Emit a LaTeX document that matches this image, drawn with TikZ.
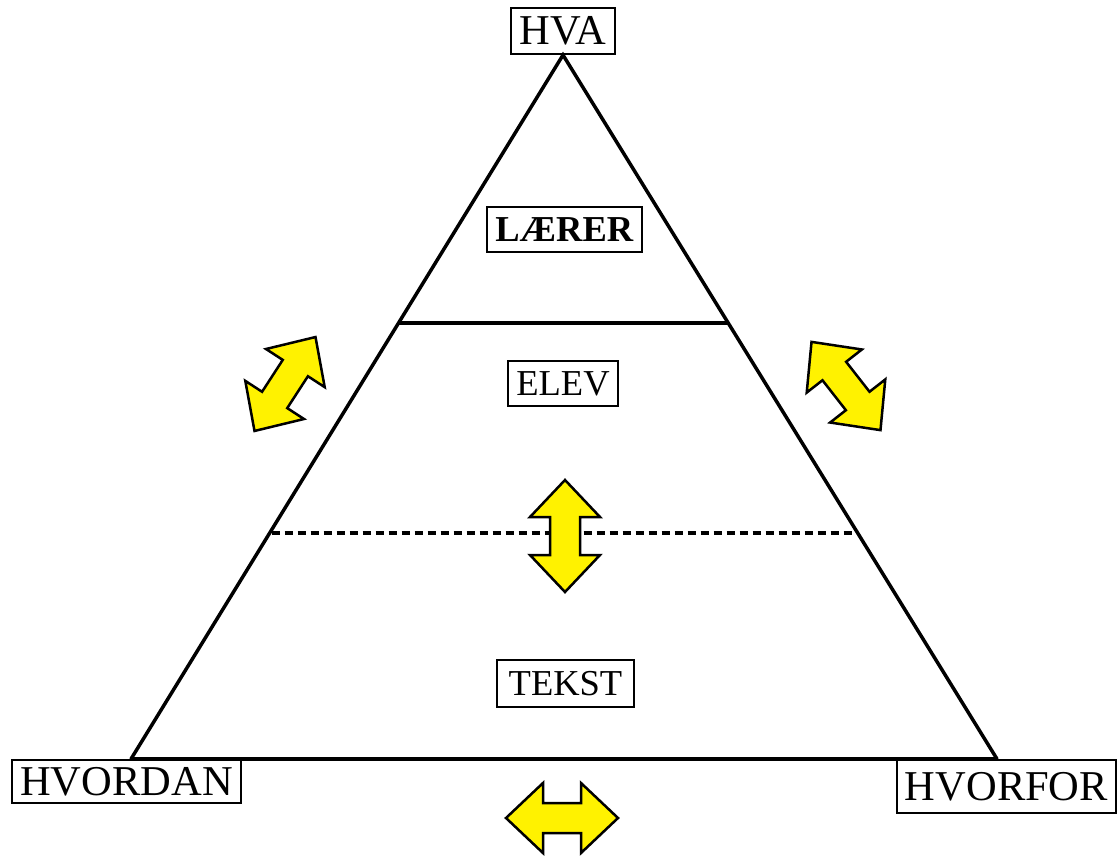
\documentclass[tikz,border=0pt]{standalone}
\usepackage{fontspec}
\setmainfont{Liberation Serif}
\usetikzlibrary{calc}
\begin{document}
\begin{tikzpicture}[x=1pt,y=-1pt,
  lbl/.style={draw,line width=2.4pt,inner sep=0pt,font=\fontsize{42.5}{50}\selectfont},
  inlbl/.style={draw,line width=2.4pt,inner sep=0pt,font=\fontsize{36.5}{42}\selectfont},
  side/.style={line width=3.5pt},
  dblarrow/.style={fill=yellow,draw=black,line width=2.5pt,line join=miter},
  dbl/.pic={\draw[dblarrow] (56,0) -- (19,35) -- (19,15) -- (-19,15) -- (-19,35) -- (-56,0) -- (-19,-35) -- (-19,-15) -- (19,-15) -- (19,-35) -- cycle;}]
\useasboundingbox (0,0) rectangle (1120,855);
\coordinate (top) at (563,55);
\coordinate (bl) at (131,759);
\coordinate (br) at (997,759);
% triangle
\draw[side,line cap=round,line join=miter] (bl) -- (top) -- (br);
\draw[side] (bl) -- (br);
% solid divider
\coordinate (sl) at ($(top)!0.3807!(bl)$);
\coordinate (sr) at ($(top)!0.3807!(br)$);
\draw[side] (sl) -- (sr);
% dashed divider
\coordinate (dl) at ($(top)!0.679!(bl)$);
\coordinate (dr) at ($(top)!0.679!(br)$);
\draw[side,dash pattern=on 8pt off 5pt,shorten <=2pt,shorten >=4pt] (dl) -- (dr);
% arrows
\pic[rotate=57] at (285,384) {dbl};
\pic[rotate=-52] at (846,386) {dbl};
\pic[rotate=90] at (565,536) {dbl};
\pic at (562,818) {dbl};
% labels
\node[lbl,minimum width=104pt,minimum height=46pt] (hva) at (563,31) {HVA};
\node[lbl,minimum width=229pt,minimum height=43pt] (hvordan) at (126.5,781.5) {HVORDAN};
\node[lbl,minimum width=219pt,minimum height=53pt] (hvorfor) at (1006.5,786.5) {HVORFOR};
\node[inlbl,minimum width=155pt,minimum height=45pt] (laerer) at (564.5,229.5) {\textbf{LÆRER}};
\node[inlbl,minimum width=110pt,minimum height=45pt] (elev) at (563,383.5) {ELEV};
\node[inlbl,minimum width=137pt,minimum height=47pt] (tekst) at (565.5,683.5) {TEKST};
\end{tikzpicture}
\end{document}
